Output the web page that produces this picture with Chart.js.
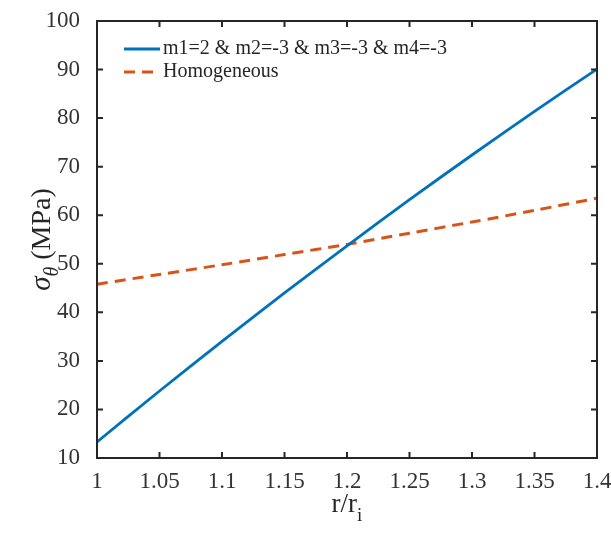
<!DOCTYPE html>
<html>
<head>
<meta charset="utf-8">
<script src="https://cdn.jsdelivr.net/npm/chart.js@4"></script>
<style>
  html, body { margin: 0; padding: 0; background: #fff; }
  #wrap { width: 611px; height: 533px; }
</style>
</head>
<body>
<div id="wrap"><canvas id="stressChart" width="611" height="533"></canvas></div>
<script>
// data
const rRatio = [1.00, 1.05, 1.10, 1.15, 1.20, 1.25, 1.30, 1.35, 1.40];
const sigmaFGM = [13.3, 23.8, 34.0, 44.0, 53.7, 63.2, 72.4, 81.4, 90.1];
const sigmaHomogeneous = [45.8, 47.8, 49.8, 51.9, 54.0, 56.3, 58.6, 61.0, 63.5];
const seriesLabels = ['m1=2 & m2=-3 & m3=-3 & m4=-3', 'Homogeneous'];
const yTicks = [10, 20, 30, 40, 50, 60, 70, 80, 90, 100];
const xTicks = [1, 1.05, 1.1, 1.15, 1.2, 1.25, 1.3, 1.35, 1.4];

const SERIF = '"Liberation Serif", "Times New Roman", serif';
const AXIS_COLOR = '#262626';

function toPoints(ys) {
    return rRatio.map((r, i) => ({ x: r, y: ys[i] }));
}

// box + inward ticks (matlab style)
const framePlugin = {
    id: 'frame',
    afterDraw(chart) {
        const { ctx, chartArea: a, scales } = chart;
        ctx.save();
        ctx.strokeStyle = AXIS_COLOR;
        ctx.lineWidth = 2;
        ctx.strokeRect(a.left, a.top, a.right - a.left, a.bottom - a.top);
        const len = 6;
        ctx.beginPath();
        xTicks.forEach(v => {
            const px = scales.x.getPixelForValue(v);
            ctx.moveTo(px, a.bottom); ctx.lineTo(px, a.bottom - len);
            ctx.moveTo(px, a.top); ctx.lineTo(px, a.top + len);
        });
        yTicks.forEach(v => {
            const py = scales.y.getPixelForValue(v);
            ctx.moveTo(a.left, py); ctx.lineTo(a.left + len, py);
            ctx.moveTo(a.right, py); ctx.lineTo(a.right - len, py);
        });
        ctx.stroke();
        ctx.restore();
    }
};

// axis titles with subscripts
const titlesPlugin = {
    id: 'titles',
    afterDraw(chart) {
        const { ctx, chartArea: a } = chart;
        ctx.save();
        ctx.fillStyle = AXIS_COLOR;
        ctx.textBaseline = 'alphabetic';

        // x title: r/r_i
        const xMain = 'r/r';
        ctx.font = '27px ' + SERIF;
        const wMain = ctx.measureText(xMain).width;
        ctx.font = '19px ' + SERIF;
        const wSub = ctx.measureText('i').width;
        let x0 = (a.left + a.right) / 2 - (wMain + wSub) / 2;
        ctx.font = '27px ' + SERIF;
        ctx.fillText(xMain, x0, 512);
        ctx.font = '19px ' + SERIF;
        ctx.fillText('i', x0 + wMain, 521);

        // y title: sigma_theta (MPa)
        ctx.translate(50, (a.top + a.bottom) / 2);
        ctx.rotate(-Math.PI / 2);
        ctx.font = 'italic 29px ' + SERIF;
        const wSig = ctx.measureText('\u03C3').width;
        ctx.font = 'italic 20px ' + SERIF;
        const wTh = ctx.measureText('\u03B8').width;
        ctx.font = '28px ' + SERIF;
        const wRest = ctx.measureText(' (MPa)').width;
        let y0 = -(wSig + wTh + wRest) / 2;
        ctx.font = 'italic 29px ' + SERIF;
        ctx.fillText('\u03C3', y0, 0);
        ctx.font = 'italic 20px ' + SERIF;
        ctx.fillText('\u03B8', y0 + wSig, 8);
        ctx.font = '28px ' + SERIF;
        ctx.fillText(' (MPa)', y0 + wSig + wTh, 0);
        ctx.restore();
    }
};

// legend inside the plot, top-left, no box
const legendPlugin = {
    id: 'insideLegend',
    afterDraw(chart) {
        const { ctx, chartArea: a } = chart;
        ctx.save();
        ctx.font = '20px ' + SERIF;
        ctx.textBaseline = 'middle';
        chart.data.datasets.forEach((ds, i) => {
            const y = a.top + 28 + i * 23;
            const x = a.left + 27;
            ctx.strokeStyle = ds.borderColor;
            ctx.lineWidth = ds.borderWidth;
            ctx.setLineDash(ds.borderDash || []);
            ctx.beginPath();
            ctx.moveTo(x, y);
            ctx.lineTo(x + 36, y);
            ctx.stroke();
            ctx.setLineDash([]);
            ctx.fillStyle = AXIS_COLOR;
            ctx.fillText(ds.label, x + 39, y);
        });
        ctx.restore();
    }
};

new Chart(document.getElementById('stressChart').getContext('2d'), {
    type: 'line',
    data: {
        datasets: [{
            label: seriesLabels[0],
            data: toPoints(sigmaFGM),
            borderColor: '#0072BD',
            borderWidth: 2.8,
            pointRadius: 0,
            tension: 0.3,
            fill: false
        }, {
            label: seriesLabels[1],
            data: toPoints(sigmaHomogeneous),
            borderColor: '#D95319',
            borderWidth: 3,
            borderDash: [11, 7],
            pointRadius: 0,
            tension: 0.3,
            fill: false
        }]
    },
    options: {
        responsive: false,
        animation: false,
        layout: { padding: { left: 0, right: 14, top: 21, bottom: 0 } },
        plugins: {
            legend: { display: false },
            tooltip: { enabled: false }
        },
        scales: {
            x: {
                type: 'linear',
                min: 1,
                max: 1.4,
                afterBuildTicks: s => { s.ticks = xTicks.map(v => ({ value: v })); },
                afterFit: s => { s.height = 75; s.paddingLeft = 0; s.paddingRight = 0; },
                grid: { display: false },
                border: { display: false },
                ticks: {
                    padding: 2,
                    color: '#333',
                    font: { family: SERIF, size: 23 },
                    maxRotation: 0,
                    autoSkip: false,
                    callback: v => String(parseFloat(v.toFixed(2)))
                }
            },
            y: {
                min: 10,
                max: 100,
                afterBuildTicks: s => { s.ticks = yTicks.map(v => ({ value: v })); },
                afterFit: s => { s.width = 97; s.paddingTop = 0; s.paddingBottom = 0; },
                grid: { display: false },
                border: { display: false },
                ticks: {
                    padding: 9,
                    color: '#333',
                    font: { family: SERIF, size: 23 },
                    autoSkip: false
                }
            }
        }
    },
    plugins: [framePlugin, titlesPlugin, legendPlugin]
});
</script>
</body>
</html>
